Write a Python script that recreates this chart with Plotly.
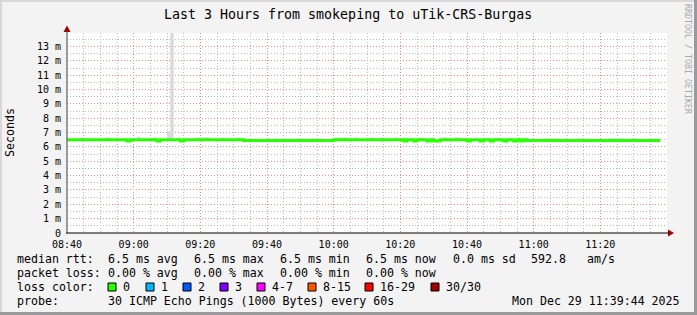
import plotly.graph_objects as go
from datetime import datetime, timedelta

# ---------------- data ----------------
title = "Last 3 Hours from smokeping to uTik-CRS-Burgas"
start_time = datetime(2025, 12, 29, 8, 40)
end_time = datetime(2025, 12, 29, 11, 40)

# median rtt per minute (ms), 08:40 .. 11:37
median_rtt = [
    6.5, 6.5, 6.5, 6.5, 6.5, 6.5, 6.5, 6.5, 6.5, 6.5, 6.5, 6.5, 6.5, 6.5, 6.5, 6.5, 6.5, 6.5, 6.42, 6.5,
    6.5, 6.5, 6.5, 6.5, 6.5, 6.5, 6.5, 6.42, 6.5, 6.5, 6.5, 6.5, 6.5, 6.5, 6.42, 6.5, 6.5, 6.5, 6.5, 6.5,
    6.5, 6.5, 6.5, 6.5, 6.5, 6.5, 6.5, 6.5, 6.5, 6.5, 6.5, 6.5, 6.5, 6.45, 6.45, 6.45, 6.45, 6.45, 6.45, 6.45,
    6.45, 6.45, 6.45, 6.45, 6.45, 6.45, 6.45, 6.45, 6.45, 6.45, 6.45, 6.45, 6.45, 6.45, 6.45, 6.45, 6.45, 6.45, 6.45, 6.45,
    6.5, 6.5, 6.5, 6.5, 6.5, 6.5, 6.5, 6.5, 6.5, 6.5, 6.5, 6.5, 6.5, 6.5, 6.5, 6.5, 6.5, 6.5, 6.5, 6.5,
    6.5, 6.42, 6.5, 6.5, 6.42, 6.5, 6.5, 6.5, 6.42, 6.5, 6.42, 6.42, 6.5, 6.5, 6.5, 6.5, 6.5, 6.5, 6.5, 6.5,
    6.42, 6.5, 6.5, 6.5, 6.42, 6.5, 6.5, 6.42, 6.5, 6.5, 6.5, 6.42, 6.5, 6.5, 6.42, 6.5, 6.42, 6.5, 6.45, 6.45,
    6.45, 6.45, 6.45, 6.45, 6.45, 6.45, 6.45, 6.45, 6.45, 6.45, 6.45, 6.45, 6.45, 6.45, 6.45, 6.45, 6.45, 6.45, 6.45, 6.45,
    6.45, 6.45, 6.45, 6.45, 6.45, 6.45, 6.45, 6.45, 6.45, 6.45, 6.45, 6.45, 6.45, 6.45, 6.45, 6.45, 6.45, 6.45,
]

# upper edge of the smoke per minute (ms)
smoke_max = [
    6.55, 6.55, 6.55, 6.55, 6.66, 6.55, 6.55, 6.55, 6.55, 6.55, 6.55, 6.55, 6.67, 6.55, 6.55, 6.55, 6.55, 6.55, 6.55, 6.55,
    6.55, 6.72, 6.55, 6.55, 6.55, 6.55, 6.67, 6.55, 6.55, 6.55, 7.1, 15.0, 6.55, 6.66, 6.55, 6.55, 6.55, 6.55, 6.55, 6.67,
    6.67, 6.67, 6.67, 6.55, 6.55, 6.55, 6.66, 6.55, 6.55, 6.55, 6.55, 6.66, 6.55, 6.5, 6.5, 6.5, 6.5, 6.5, 6.5, 6.5,
    6.5, 6.5, 6.63, 6.5, 6.5, 6.5, 6.5, 6.5, 6.5, 6.61, 6.5, 6.5, 6.5, 6.61, 6.5, 6.5, 6.5, 6.5, 6.5, 6.5,
    6.55, 6.67, 6.67, 6.67, 6.55, 6.55, 6.66, 6.55, 6.55, 6.55, 6.55, 6.66, 6.55, 6.55, 6.66, 6.55, 6.55, 6.55, 6.66, 6.55,
    6.55, 6.66, 6.55, 6.55, 6.55, 6.55, 6.66, 6.55, 6.55, 6.55, 6.55, 6.55, 6.55, 6.67, 6.55, 6.55, 6.67, 6.67, 6.55, 6.55,
    6.55, 6.55, 6.55, 6.55, 6.55, 6.55, 6.55, 6.55, 6.55, 6.55, 6.55, 6.55, 6.55, 6.55, 6.55, 6.67, 6.55, 6.55, 6.5, 6.5,
    6.5, 6.5, 6.5, 6.61, 6.61, 6.61, 6.61, 6.61, 6.5, 6.5, 6.5, 6.5, 6.5, 6.61, 6.5, 6.5, 6.5, 6.5, 6.5, 6.5,
    6.5, 6.5, 6.5, 6.63, 6.63, 6.63, 6.63, 6.5, 6.5, 6.5, 6.61, 6.5, 6.5, 6.5, 6.5, 6.5, 6.5, 6.5,
]

x_tick_labels = ["08:40", "09:00", "09:20", "09:40", "10:00", "10:20", "10:40", "11:00", "11:20"]
y_tick_values = [0, 1, 2, 3, 4, 5, 6, 7, 8, 9, 10, 11, 12, 13]
y_tick_labels = ["0", "1 m", "2 m", "3 m", "4 m", "5 m", "6 m", "7 m", "8 m", "9 m",
                 "10 m", "11 m", "12 m", "13 m"]

rtt_stats = ["6.5 ms avg", "6.5 ms max", "6.5 ms min", "6.5 ms now", "0.0 ms sd", "592.8", "am/s"]
loss_stats = ["0.00 % avg", "0.00 % max", "0.00 % min", "0.00 % now"]
loss_labels = ["0", "1", "2", "3", "4-7", "8-15", "16-29", "30/30"]
loss_colors = ["#26ff00", "#00b8ff", "#0059ff", "#7e00ff", "#ff00ff", "#ff5500", "#ff0000", "#a00000"]
probe_text = "30 ICMP Echo Pings (1000 Bytes) every 60s"
stamp_text = "Mon Dec 29 11:39:44 2025"

# ---------------- layout helpers (pixel -> paper) ----------------
W, H = 697, 315
PL, PR, PT, PB = 67, 667, 33, 233


def fx(px):
    return (px - PL) / (PR - PL)


def fy(py):
    return (PB - py) / (PB - PT)


MONO = "DejaVu Sans Mono"

times = [start_time + timedelta(minutes=i) for i in range(len(median_rtt))]
step_end = times[-1] + timedelta(minutes=1)
x_tick_values = [datetime.strptime("2025-12-29 " + t, "%Y-%m-%d %H:%M") for t in x_tick_labels]

fig = go.Figure()

# smoke
fig.add_trace(go.Bar(
    x=times,
    y=[h - m for h, m in zip(smoke_max, median_rtt)],
    base=median_rtt,
    width=60000,
    offset=0,
    marker=dict(color="#d9d9d9", line=dict(width=0)),
    hoverinfo="skip",
    showlegend=False,
))

# median line
fig.add_trace(go.Scatter(
    x=times + [step_end],
    y=median_rtt + [median_rtt[-1]],
    mode="lines",
    line=dict(color="#26ff00", width=3, shape="hv"),
    hoverinfo="skip",
    showlegend=False,
))

annotations = []
shapes = []


def txt(x, y, s, size=11.6, anchor="left", color="#000000", angle=0):
    annotations.append(dict(
        x=fx(x), y=fy(y), xref="paper", yref="paper", text=s, showarrow=False,
        xanchor=anchor, yanchor="middle", textangle=angle, borderpad=0,
        font=dict(family=MONO, size=size, color=color),
    ))


# title & side texts
txt(348, 14, title, size=13.3, anchor="center")
txt(10, 133, "Seconds", size=11.6, anchor="center", angle=-90)
txt(688, 59, "RRDTOOL / TOBI OETIKER", size=8.3, anchor="center", color="#aaaaaa", angle=90)

# legend rows
cols = [107, 193, 279, 365, 452, 530, 586]
txt(16, 259, "median rtt:")
for c, s in zip(cols, rtt_stats):
    txt(c, 259, s)
txt(16, 273, "packet loss:")
for c, s in zip(cols, loss_stats):
    txt(c, 273, s)
txt(16, 287, "loss color:")
box_x = [108, 146, 183, 220, 257, 308, 365, 431]
for bx, lab, col in zip(box_x, loss_labels, loss_colors):
    shapes.append(dict(type="rect", xref="paper", yref="paper",
                       x0=fx(bx), x1=fx(bx + 8), y0=fy(291), y1=fy(283),
                       fillcolor=col, line=dict(color="#000000", width=1)))
    txt(bx + 14, 287, lab)
txt(16, 301, "probe:")
txt(107, 301, probe_text)
txt(681, 301, stamp_text, anchor="right")

# axis arrows
shapes.append(dict(type="path", xref="paper", yref="paper",
                   path=f"M {fx(63.5)} {fy(32)} L {fx(67)} {fy(25.5)} L {fx(70.5)} {fy(32)} Z",
                   fillcolor="#a00000", line=dict(width=0)))
shapes.append(dict(type="path", xref="paper", yref="paper",
                   path=f"M {fx(668)} {fy(229.5)} L {fx(674)} {fy(233)} L {fx(668)} {fy(236.5)} Z",
                   fillcolor="#a00000", line=dict(width=0)))
shapes.append(dict(type="line", xref="paper", yref="paper",
                   x0=fx(67), x1=fx(67), y0=fy(233), y1=fy(31),
                   line=dict(color="#404040", width=1)))
shapes.append(dict(type="line", xref="paper", yref="paper",
                   x0=fx(66), x1=fx(669), y0=fy(233), y1=fy(233),
                   line=dict(color="#000000", width=1)))

# frame shading
shapes.append(dict(type="rect", xref="paper", yref="paper", x0=fx(0), x1=fx(697), y0=fy(0), y1=fy(2),
                   fillcolor="#d8d8d8", line=dict(width=0), layer="below"))
shapes.append(dict(type="rect", xref="paper", yref="paper", x0=fx(0), x1=fx(2), y0=fy(0), y1=fy(315),
                   fillcolor="#d8d8d8", line=dict(width=0), layer="below"))
shapes.append(dict(type="rect", xref="paper", yref="paper", x0=fx(694), x1=fx(697), y0=fy(0), y1=fy(315),
                   fillcolor="#9a9a9a", line=dict(width=0)))
shapes.append(dict(type="rect", xref="paper", yref="paper", x0=fx(0), x1=fx(697), y0=fy(312), y1=fy(315),
                   fillcolor="#9a9a9a", line=dict(width=0)))

fig.update_layout(
    template="none",
    width=W, height=H, autosize=False,
    margin=dict(l=PL, r=W - PR, t=PT, b=H - PB, pad=0),
    paper_bgcolor="#f3f3f3",
    plot_bgcolor="#ffffff",
    showlegend=False,
    barmode="overlay",
    annotations=annotations,
    shapes=shapes,
    xaxis=dict(
        type="date", range=[start_time, end_time], automargin=False,
        tickmode="array", tickvals=x_tick_values, ticktext=x_tick_labels,
        showgrid=True, gridcolor="#eb8c8c", griddash="1px,2px", gridwidth=1,
        minor=dict(tick0=start_time, dtick=300000, showgrid=True,
                   gridcolor="#bcbcbc", griddash="1px,2px", gridwidth=1),
        showline=False, zeroline=False, ticks="",
        ticklabelstandoff=4,
        tickfont=dict(family=MONO, size=10, color="#000000"),
        fixedrange=True,
    ),
    yaxis=dict(
        range=[0, 13.94], automargin=False,
        tickmode="array", tickvals=y_tick_values, ticktext=y_tick_labels,
        showgrid=True, gridcolor="#eb8c8c", griddash="1px,2px", gridwidth=1,
        minor=dict(dtick=0.5, tick0=0, showgrid=True,
                   gridcolor="#bcbcbc", griddash="1px,2px", gridwidth=1),
        showline=False, zeroline=False, ticks="",
        ticklabelstandoff=5,
        tickfont=dict(family=MONO, size=10, color="#000000"),
        fixedrange=True,
    ),
)

fig.write_html("out.html", config={"displayModeBar": False})
